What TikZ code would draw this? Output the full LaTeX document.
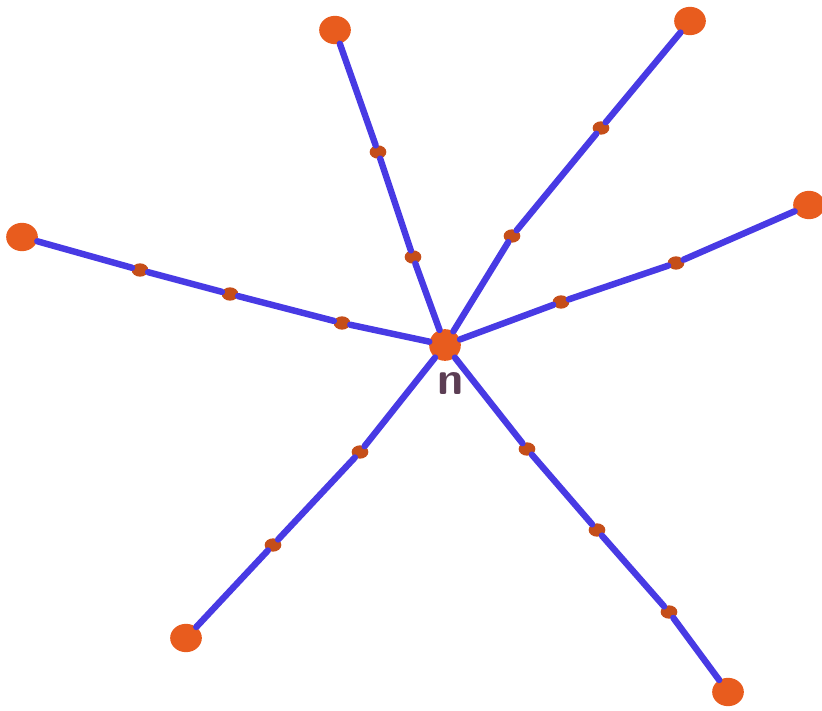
\documentclass[tikz,border=0pt]{standalone}
\usetikzlibrary{shapes.geometric}

\definecolor{armblue}{RGB}{72,58,228}
\definecolor{dotorange}{RGB}{232,92,30}
\definecolor{labelgray}{RGB}{92,62,84}

\tikzset{
  enddot/.style={ellipse, fill=dotorange, inner sep=0pt, minimum width=0.95cm, minimum height=0.85cm},
  middot/.style={ellipse, fill=dotorange!85!black, inner sep=0pt, minimum width=0.5cm, minimum height=0.4cm},
  hubdot/.style={circle, fill=dotorange, inner sep=0pt, minimum size=0.95cm},
  arm/.style={armblue, line width=5.5pt, line cap=round, line join=round}
}

\begin{document}
\begin{tikzpicture}[x=0.03cm, y=-0.03cm]

\useasboundingbox (0,0) rectangle (822,711);

% --- Centro ---
\node[hubdot] (hub) at (445,345) {};
\node[text=labelgray, font=\sffamily\bfseries\fontsize{40}{40}\selectfont] (lbl) at (451,384) {n};

% --- Brazo arriba-izquierda ---
\node[middot] (a1) at (413,257) {};
\node[middot] (a2) at (378,152) {};
\node[enddot] (a3) at (335,30) {};

% --- Brazo arriba-derecha ---
\node[middot] (b1) at (512,236) {};
\node[middot] (b2) at (601,128) {};
\node[enddot] (b3) at (690,21) {};

% --- Brazo derecha ---
\node[middot] (c1) at (561,302) {};
\node[middot] (c2) at (676,263) {};
\node[enddot] (c3) at (809,205) {};

% --- Brazo izquierda ---
\node[middot] (d1) at (342,323) {};
\node[middot] (d2) at (230,294) {};
\node[middot] (d3) at (140,270) {};
\node[enddot] (d4) at (22,237) {};

% --- Brazo abajo-izquierda ---
\node[middot] (e1) at (360,452) {};
\node[middot] (e2) at (273,545) {};
\node[enddot] (e3) at (186,638) {};

% --- Brazo abajo-derecha ---
\node[middot] (f1) at (527,449) {};
\node[middot] (f2) at (597,530) {};
\node[middot] (f3) at (669,612) {};
\node[enddot] (f4) at (728,692) {};

% --- Aristas ---
\draw[arm] (hub) -- (a1) -- (a2) -- (a3);
\draw[arm] (hub) -- (b1) -- (b2) -- (b3);
\draw[arm] (hub) -- (c1) -- (c2) -- (c3);
\draw[arm] (hub) -- (d1) -- (d2) -- (d3) -- (d4);
\draw[arm] (hub) -- (e1) -- (e2) -- (e3);
\draw[arm] (hub) -- (f1) -- (f2) -- (f3) -- (f4);

\end{tikzpicture}
\end{document}
